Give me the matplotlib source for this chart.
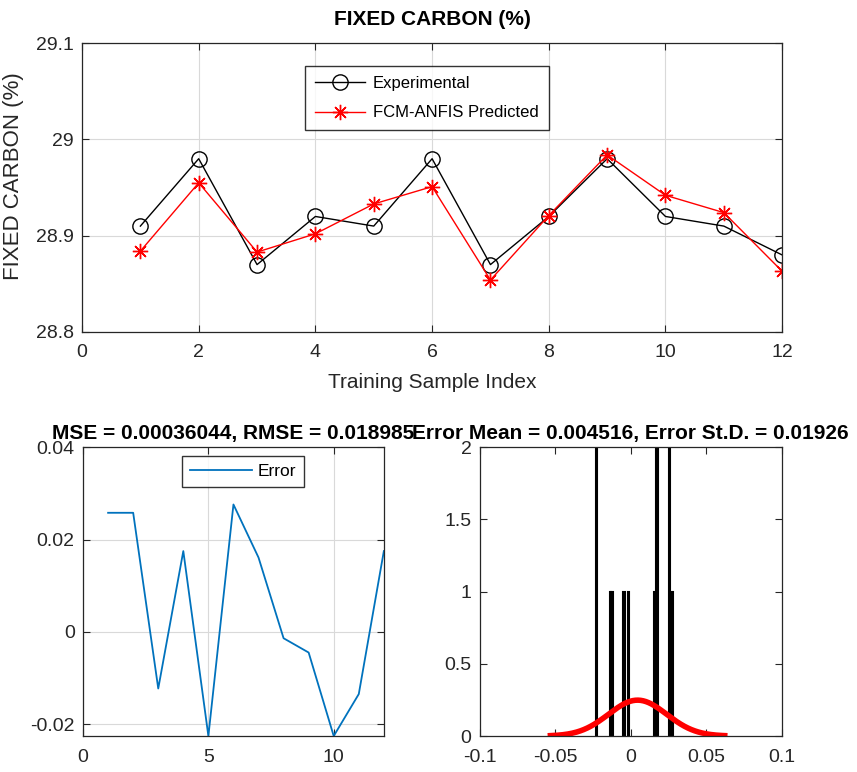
import matplotlib
matplotlib.use('Agg')
import matplotlib.pyplot as plt
import numpy as np

plt.rcParams['font.family'] = ['Liberation Sans', 'DejaVu Sans']

# sample index and fixed carbon values (%)
idx = np.arange(1, 13)
experimental = [28.91, 28.98, 28.87, 28.92, 28.91, 28.98, 28.87, 28.92, 28.98, 28.92, 28.91, 28.88]
predicted = [28.884, 28.955, 28.883, 28.902, 28.933, 28.951, 28.854, 28.921, 28.984, 28.942, 28.924, 28.863]

# prediction error per sample
error = [0.0258, 0.0258, -0.0123, 0.0175, -0.0226, 0.0276, 0.0161, -0.0014, -0.0045, -0.0226, -0.0135, 0.0175]

# histogram of the error (bin centres and counts)
bin_centers = [-0.0226, -0.0135, -0.0123, -0.0045, -0.0014, 0.0161, 0.0175, 0.0258, 0.0276]
bin_counts = [2, 1, 1, 1, 1, 1, 2, 2, 1]
bin_width = 0.001

mse = 0.00036044
rmse = 0.018985
err_mean = 0.004516
err_std = 0.01926

tick_col = '#262626'
grid_col = '#d9d9d9'

fig = plt.figure(figsize=(8.57, 7.72), dpi=100)


def matlab_style(ax, grid=True):
    ax.tick_params(direction='in', top=True, right=True, labelsize=14,
                   colors=tick_col, length=5, width=0.8)
    ax.tick_params(axis='x', pad=9)
    ax.tick_params(axis='y', pad=6)
    for s in ax.spines.values():
        s.set_color('#262626')
        s.set_linewidth(0.9)
    if grid:
        ax.grid(True, color=grid_col, linewidth=0.8)
        ax.set_axisbelow(True)


# top: experimental vs predicted
ax1 = fig.add_axes([0.0957, 0.570, 0.817, 0.374])
ax1.plot(idx, experimental, color='black', marker='o', markersize=11,
         markerfacecolor='none', linewidth=1, label='Experimental')
ax1.plot(idx, predicted, color='red', marker=(8, 2, 0), markersize=11,
         markeredgewidth=1, linewidth=1, label='FCM-ANFIS Predicted')
ax1.set_xlim(0, 12)
ax1.set_ylim(28.8, 29.1)
ax1.set_xticks(range(0, 13, 2))
ax1.set_yticks([28.8, 28.9, 29.0, 29.1])
ax1.set_yticklabels(['28.8', '28.9', '29', '29.1'])
matlab_style(ax1)
ax1.set_title('FIXED CARBON (%)', fontsize=15, fontweight='bold', pad=13)
ax1.set_xlabel('Training Sample Index', fontsize=15, color=tick_col, labelpad=8)
ax1.set_ylabel('FIXED CARBON (%)', fontsize=16, color=tick_col)
ax1.yaxis.set_label_coords(-0.083, 0.54)
leg1 = ax1.legend(loc='upper left', bbox_to_anchor=(0.318, 0.920), fontsize=12,
                  frameon=True, fancybox=False, edgecolor='black', borderpad=0.6,
                  handlelength=3.0, labelspacing=0.85, borderaxespad=0,
                  handletextpad=0.5)
leg1.get_frame().set_linewidth(1)

# bottom left: error
ax2 = fig.add_axes([0.0969, 0.0466, 0.351, 0.374])
ax2.plot(idx, error, color='#0072BD', linewidth=1.3, label='Error')
ax2.set_xlim(0, 12)
ax2.set_ylim(-0.0226, 0.04)
ax2.set_xticks([0, 5, 10])
ax2.set_yticks([-0.02, 0, 0.02, 0.04])
ax2.set_yticklabels(['-0.02', '0', '0.02', '0.04'])
matlab_style(ax2)
ax2.set_title('MSE = %.8f, RMSE = %.6f' % (mse, rmse), fontsize=15,
              fontweight='bold', pad=6)
leg2 = ax2.legend(loc='upper left', bbox_to_anchor=(0.329, 0.969), fontsize=12.5,
                  frameon=True, fancybox=False, edgecolor='black', borderpad=0.45,
                  handlelength=3.6, borderaxespad=0, handletextpad=0.3)
leg2.get_frame().set_linewidth(1)

# bottom right: error histogram with fitted normal curve
ax3 = fig.add_axes([0.560, 0.0466, 0.352, 0.374])
ax3.bar(bin_centers, bin_counts, width=bin_width, color='#0072BD',
        edgecolor='black', linewidth=1.5)
xs = np.linspace(err_mean - 3 * err_std, err_mean + 3 * err_std, 200)
pdf = np.exp(-0.5 * ((xs - err_mean) / err_std) ** 2) / (err_std * np.sqrt(2 * np.pi))
ax3.plot(xs, pdf * len(error) * bin_width, color='red', linewidth=4)
ax3.set_xlim(-0.1, 0.1)
ax3.set_ylim(0, 2)
ax3.set_xticks([-0.1, -0.05, 0, 0.05, 0.1])
ax3.set_xticklabels(['-0.1', '-0.05', '0', '0.05', '0.1'])
ax3.set_yticks([0, 0.5, 1, 1.5, 2])
ax3.set_yticklabels(['0', '0.5', '1', '1.5', '2'])
matlab_style(ax3, grid=False)
ax3.set_title('Error Mean = %.6f, Error St.D. = %.5f' % (err_mean, err_std),
              fontsize=15, fontweight='bold', pad=6)

fig.savefig('out.png', dpi=100)
